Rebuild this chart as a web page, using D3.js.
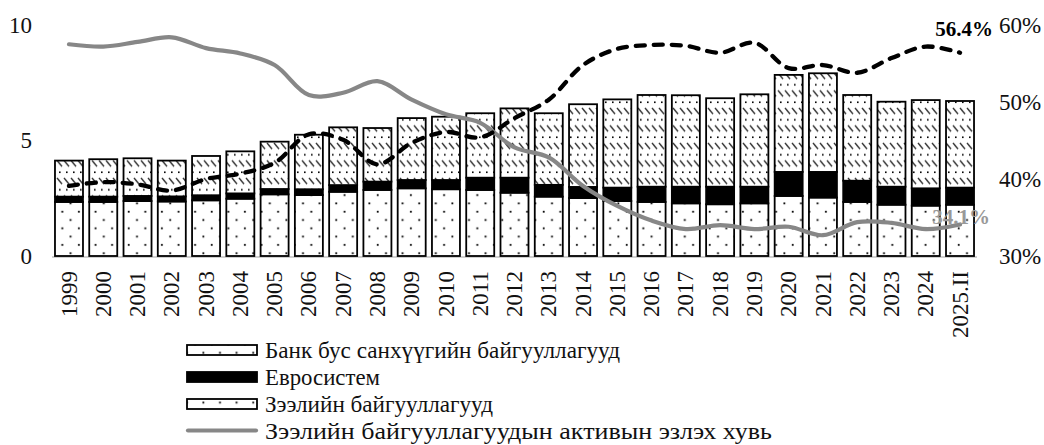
<!DOCTYPE html>
<html>
<head>
<meta charset="utf-8">
<script src="https://cdn.jsdelivr.net/npm/d3@7/dist/d3.min.js"></script>
<style>
  html, body { margin: 0; padding: 0; background: #fff; }
  svg { display: block; }
  text { font-family: "Liberation Serif", "Times New Roman", serif; }
</style>
</head>
<body>
<svg id="chart" width="1044" height="445"></svg>
<script>
const categories = ["1999","2000","2001","2002","2003","2004","2005","2006","2007","2008","2009","2010","2011","2012","2013","2014","2015","2016","2017","2018","2019","2020","2021","2022","2023","2024","2025.II"];
// Зээлийн байгууллагууд (bottom, dotted)
const creditInst = [2.34,2.34,2.38,2.36,2.41,2.48,2.67,2.64,2.78,2.86,2.93,2.89,2.86,2.74,2.57,2.51,2.38,2.34,2.28,2.24,2.28,2.60,2.53,2.34,2.22,2.18,2.22];
// Евросистем (middle, black)
const eurosystem = [0.23,0.23,0.22,0.22,0.22,0.23,0.23,0.25,0.29,0.36,0.36,0.40,0.53,0.65,0.51,0.48,0.58,0.66,0.72,0.76,0.72,1.04,1.11,0.92,0.78,0.75,0.74];
// Банк бус санхүүгийн байгууллагууд (top, hatched)
const nonBank = [1.56,1.62,1.63,1.55,1.70,1.82,2.05,2.36,2.50,2.32,2.68,2.74,2.79,3.00,3.10,3.58,3.82,3.97,3.96,3.83,4.00,4.20,4.27,3.71,3.68,3.82,3.75];
// Зээлийн байгууллагуудын активын эзлэх хувь (grey line, %)
const creditShare = [57.5,57.2,57.8,58.4,57.0,56.3,54.8,50.9,51.2,52.7,50.3,48.4,47.3,44.1,42.8,39.1,36.5,34.6,33.5,34.0,33.5,33.8,32.7,34.4,34.3,33.5,34.1];
// Non-bank share (black dashed line, %)
const nonBankShare = [39.1,39.6,39.3,38.5,40.0,40.7,42.1,45.8,45.1,41.9,44.7,46.1,45.4,47.9,50.3,54.8,56.9,57.4,57.3,56.4,57.7,54.4,54.8,53.8,55.7,57.2,56.4];
const leftTicks = [0,5,10];
const rightTicks = [30,40,50,60];
const legendLabels = ["Банк бус санхүүгийн байгууллагууд","Евросистем","Зээлийн байгууллагууд","Зээлийн байгууллагуудын активын эзлэх хувь"];
const endLabels = ["56.4%","34.1%"];

const svg = d3.select("#chart");
const defs = svg.append("defs");

// dotted pattern
const pDots = defs.append("pattern").attr("id","dots").attr("patternUnits","userSpaceOnUse")
  .attr("width",16.6).attr("height",16.6);
pDots.append("rect").attr("width",16.6).attr("height",16.6).attr("fill","#fff");
pDots.append("rect").attr("x",3.3).attr("y",3.3).attr("width",1.8).attr("height",1.8).attr("fill","#000");
pDots.append("rect").attr("x",11.6).attr("y",11.6).attr("width",1.8).attr("height",1.8).attr("fill","#000");

// hatched pattern
const pHatch = defs.append("pattern").attr("id","hatch").attr("patternUnits","userSpaceOnUse")
  .attr("width",7).attr("height",17.5);
pHatch.append("rect").attr("width",7).attr("height",17.5).attr("fill","#fff");
pHatch.append("line").attr("x1",1).attr("y1",3).attr("x2",6).attr("y2",9)
  .attr("stroke","#333").attr("stroke-width",1.4);
pHatch.append("rect").attr("x",3).attr("y",14).attr("width",1.6).attr("height",1.6).attr("fill","#000");

const x = d3.scaleBand().domain(categories).range([52,977]).paddingInner(0.183).paddingOuter(0.087);
const yL = d3.scaleLinear().domain([0,10]).range([256,25]);
const yR = d3.scaleLinear().domain([30,60]).range([256,25]);

// baseline
svg.append("line").attr("x1",52).attr("x2",977).attr("y1",yL(0)+1).attr("y2",yL(0)+1)
  .attr("stroke","#d0d0d0").attr("stroke-width",2);

const stackData = categories.map((c,i)=>({cat:c, a:creditInst[i], b:eurosystem[i], c:nonBank[i]}));
const series = d3.stack().keys(["a","b","c"])(stackData);
const fills = {a:"url(#dots)", b:"#000", c:"url(#hatch)"};

svg.append("g").selectAll("g").data(series).join("g")
  .attr("fill", d=>fills[d.key])
  .selectAll("rect").data(d=>d).join("rect")
  .attr("x", d=>x(d.data.cat)).attr("width", x.bandwidth())
  .attr("y", d=>yL(d[1])).attr("height", d=>yL(d[0])-yL(d[1]))
  .attr("stroke","#000").attr("stroke-width",1.8);

const cx = c => x(c)+x.bandwidth()/2;

// grey line
svg.append("path").datum(creditShare)
  .attr("fill","none").attr("stroke","#878787").attr("stroke-width",4.2)
  .attr("stroke-linecap","round")
  .attr("d", d3.line().x((d,i)=>cx(categories[i])).y(d=>yR(d)).curve(d3.curveCatmullRom.alpha(0.5)));

// dashed line
svg.append("path").datum(nonBankShare)
  .attr("fill","none").attr("stroke","#000").attr("stroke-width",4.3)
  .attr("stroke-dasharray","9,9").attr("stroke-linecap","round")
  .attr("d", d3.line().x((d,i)=>cx(categories[i])).y(d=>yR(d)).curve(d3.curveCatmullRom.alpha(0.5)));

// left axis
const axL = svg.append("g").attr("transform","translate(40,0)")
  .call(d3.axisLeft(yL).tickValues(leftTicks).tickSize(0).tickPadding(8).tickFormat(d3.format("d")));
axL.select(".domain").remove();
axL.selectAll("text").attr("font-size",23).attr("fill","#111");

// right axis
const axR = svg.append("g").attr("transform","translate(991,0)")
  .call(d3.axisRight(yR).tickValues(rightTicks).tickSize(0).tickPadding(8).tickFormat(d=>d+"%"));
axR.select(".domain").remove();
axR.selectAll("text").attr("font-size",23).attr("fill","#111");

// x axis labels
const axX = svg.append("g").attr("transform",`translate(0,${yL(0)})`)
  .call(d3.axisBottom(x).tickSize(0).tickPadding(0));
axX.select(".domain").remove();
axX.selectAll("text").attr("font-size",23).attr("fill","#111")
  .attr("text-anchor","end").attr("dy","0.33em").attr("dx",0)
  .attr("transform","translate(0,15) rotate(-90)").attr("x",0).attr("y",0);

// end labels
const last = categories[categories.length-1];
svg.append("text").attr("x",cx(last)+33).attr("y",yR(nonBankShare[nonBankShare.length-1])-17)
  .attr("text-anchor","end").attr("font-size",21).attr("font-weight","bold").attr("fill","#000")
  .text(endLabels[0]);
svg.append("text").attr("x",cx(last)+30).attr("y",yR(creditShare[creditShare.length-1])-0)
  .attr("text-anchor","end").attr("font-size",21).attr("font-weight","bold").attr("fill","#999")
  .text(endLabels[1]);

// legend
const lg = svg.append("g");
const rowY = [350,377,404,430.5];
const textW = [355,115,228,507];
const swFill = ["url(#dots)","#000","url(#dots)"];
legendLabels.forEach((t,i)=>{
  if (i<3) {
    lg.append("rect").attr("x",187).attr("y",rowY[i]-5).attr("width",70).attr("height",10)
      .attr("fill", swFill[i]).attr("stroke","#000").attr("stroke-width",1.8);
  } else {
    lg.append("line").attr("x1",188).attr("x2",256).attr("y1",rowY[i]).attr("y2",rowY[i])
      .attr("stroke","#878787").attr("stroke-width",4.2).attr("stroke-linecap","round");
  }
  lg.append("text").attr("x",265).attr("y",rowY[i]).attr("dy","0.35em")
    .attr("font-size",23).attr("fill","#111")
    .attr("textLength",textW[i]).attr("lengthAdjust","spacingAndGlyphs").text(t);
});
</script>
</body>
</html>
